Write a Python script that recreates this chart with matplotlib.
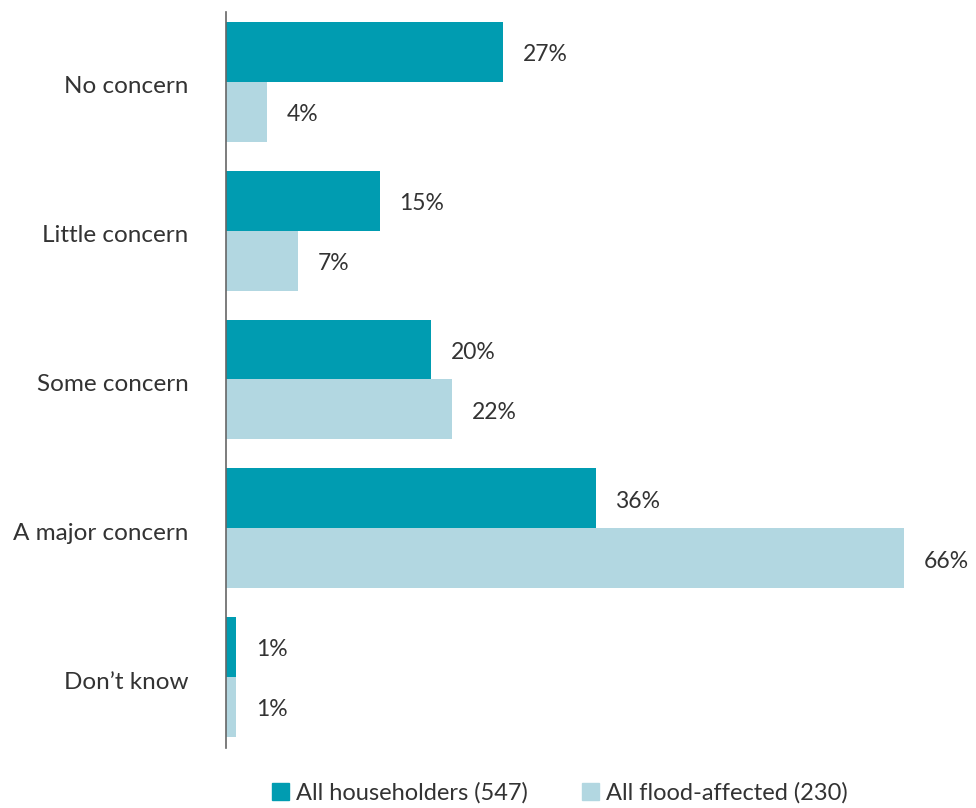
import matplotlib
matplotlib.use("Agg")
import matplotlib.pyplot as plt
import matplotlib.transforms as mtransforms
import numpy as np
from matplotlib.patches import Patch

categories = ["No concern", "Little concern", "Some concern", "A major concern", "Don\u2019t know"]
householders = [27, 15, 20, 36, 1]
flood_affected = [4, 7, 22, 66, 1]
series_names = ["All householders (547)", "All flood-affected (230)"]

TEAL = "#009cb1"
LIGHT = "#b2d7e1"
TXT = "#333333"

plt.rcParams["font.family"] = ["Lato", "DejaVu Sans"]

fig = plt.figure(figsize=(9.76, 8.08), dpi=100)
ax = fig.add_axes([226 / 976, 1 - 748 / 808, (945 - 226) / 976, (748 - 12) / 808])

y = np.arange(len(categories))
h = 0.403
ax.barh(y - h / 2, householders, height=h, color=TEAL)
ax.barh(y + h / 2, flood_affected, height=h, color=LIGHT)

for yi, v in zip(y - h / 2, householders):
    ax.annotate(f"{v}%", (v, yi), xytext=(14, -2), textcoords="offset points",
                va="center", ha="left", fontsize=16.5, color=TXT)
for yi, v in zip(y + h / 2, flood_affected):
    ax.annotate(f"{v}%", (v, yi), xytext=(14, -2), textcoords="offset points",
                va="center", ha="left", fontsize=16.5, color=TXT)

ax.set_xlim(0, 70)
ax.set_ylim(4.477, -0.47)
ax.set_yticks(y)
ax.set_yticklabels(categories, fontsize=17.5, color=TXT)
ax.tick_params(axis="y", length=0, pad=27)
# nudge category labels down a little
shift = mtransforms.ScaledTranslation(0, -3 / 100, fig.dpi_scale_trans)
for lab in ax.get_yticklabels():
    lab.set_transform(lab.get_transform() + shift)
ax.set_xticks([])
for s in ["top", "right", "bottom"]:
    ax.spines[s].set_visible(False)
ax.spines["left"].set_color("#666666")
ax.spines["left"].set_linewidth(1.2)

handles = [Patch(color=TEAL, label=series_names[0]), Patch(color=LIGHT, label=series_names[1])]
leg = fig.legend(handles=handles, loc="center", bbox_to_anchor=(560 / 976, 1 - 793 / 808),
                 ncol=2, frameon=False, fontsize=17, handlelength=0.7, handleheight=0.7,
                 handletextpad=0.3, columnspacing=2.3, borderaxespad=0)
for t in leg.get_texts():
    t.set_color(TXT)

fig.savefig("out.png", dpi=100)
